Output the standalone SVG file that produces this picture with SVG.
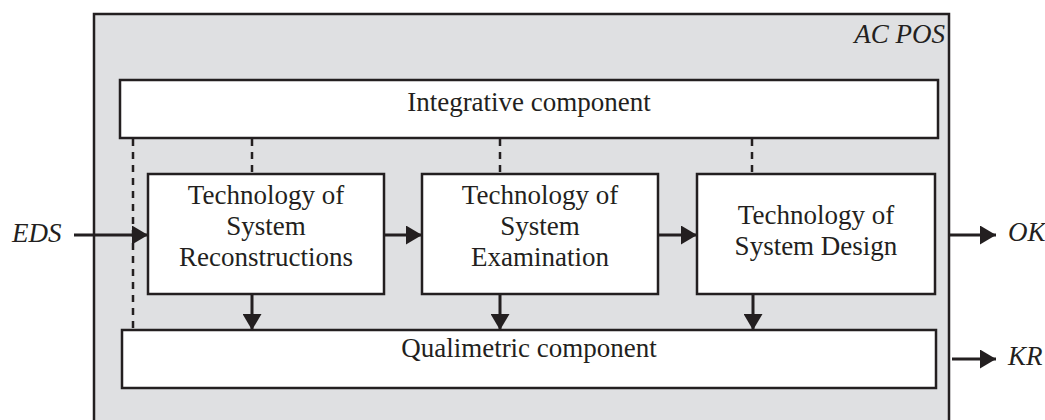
<svg xmlns="http://www.w3.org/2000/svg" width="1045" height="420" viewBox="0 0 1045 420">
  <style>
    .box { fill: #ffffff; stroke: #231f20; stroke-width: 2.5; }
    .outer { fill: #dfe0e2; stroke: #231f20; stroke-width: 2.5; }
    .lbl { font-family: "Liberation Serif", "Times New Roman", serif; font-size: 27px; fill: #231f20; text-anchor: middle; }
    .ital { font-family: "Liberation Serif", "Times New Roman", serif; font-size: 27px; font-style: italic; fill: #231f20; }
    .arrow { stroke: #231f20; stroke-width: 3; fill: none; marker-end: url(#ah); }
    .dash { stroke: #231f20; stroke-width: 2.5; stroke-dasharray: 7 6; fill: none; }
  </style>
  <defs>
    <marker id="ah" markerUnits="userSpaceOnUse" markerWidth="17" markerHeight="19" refX="16" refY="9.5" orient="auto">
      <path d="M0,0 L16,9.5 L0,19 Z" fill="#231f20"/>
    </marker>
  </defs>

  <g id="ac-pos">
    <rect class="outer" x="94" y="14" width="855" height="420"/>
    <text class="ital" x="945" y="43" text-anchor="end">AC POS</text>
  </g>

  <g id="integrative">
    <rect class="box" x="120" y="80" width="818" height="58"/>
    <text class="lbl" x="529" y="111">Integrative component</text>
  </g>

  <g id="tech-reconstructions">
    <rect class="box" x="148" y="174" width="236" height="120"/>
    <text class="lbl" x="266" y="204">Technology of</text>
    <text class="lbl" x="266" y="235">System</text>
    <text class="lbl" x="266" y="266">Reconstructions</text>
  </g>

  <g id="tech-examination">
    <rect class="box" x="422" y="174" width="236" height="120"/>
    <text class="lbl" x="540" y="204">Technology of</text>
    <text class="lbl" x="540" y="235">System</text>
    <text class="lbl" x="540" y="266">Examination</text>
  </g>

  <g id="tech-design">
    <rect class="box" x="697" y="174" width="238" height="120"/>
    <text class="lbl" x="816" y="224">Technology of</text>
    <text class="lbl" x="816" y="255">System Design</text>
  </g>

  <g id="qualimetric">
    <rect class="box" x="122" y="330" width="814" height="58"/>
    <text class="lbl" x="529" y="357">Qualimetric component</text>
  </g>

  <g id="io-labels">
    <text class="ital" x="12" y="242">EDS</text>
    <text class="ital" x="1008" y="241">OK</text>
    <text class="ital" x="1008" y="365">KR</text>
  </g>

  <g id="connectors">
    <line class="dash" x1="133" y1="139" x2="133" y2="329"/>
    <line class="dash" x1="252" y1="139" x2="252" y2="173"/>
    <line class="dash" x1="500" y1="139" x2="500" y2="173"/>
    <line class="dash" x1="752" y1="139" x2="752" y2="173"/>

    <line class="arrow" x1="74" y1="235" x2="148" y2="235"/>
    <line class="arrow" x1="384" y1="235" x2="422" y2="235"/>
    <line class="arrow" x1="658" y1="235" x2="697" y2="235"/>
    <line class="arrow" x1="950" y1="235" x2="996" y2="235"/>
    <line class="arrow" x1="952" y1="359" x2="996" y2="359"/>

    <line class="arrow" x1="252" y1="294" x2="252" y2="330"/>
    <line class="arrow" x1="500" y1="294" x2="500" y2="330"/>
    <line class="arrow" x1="753" y1="294" x2="753" y2="330"/>
  </g>
</svg>
